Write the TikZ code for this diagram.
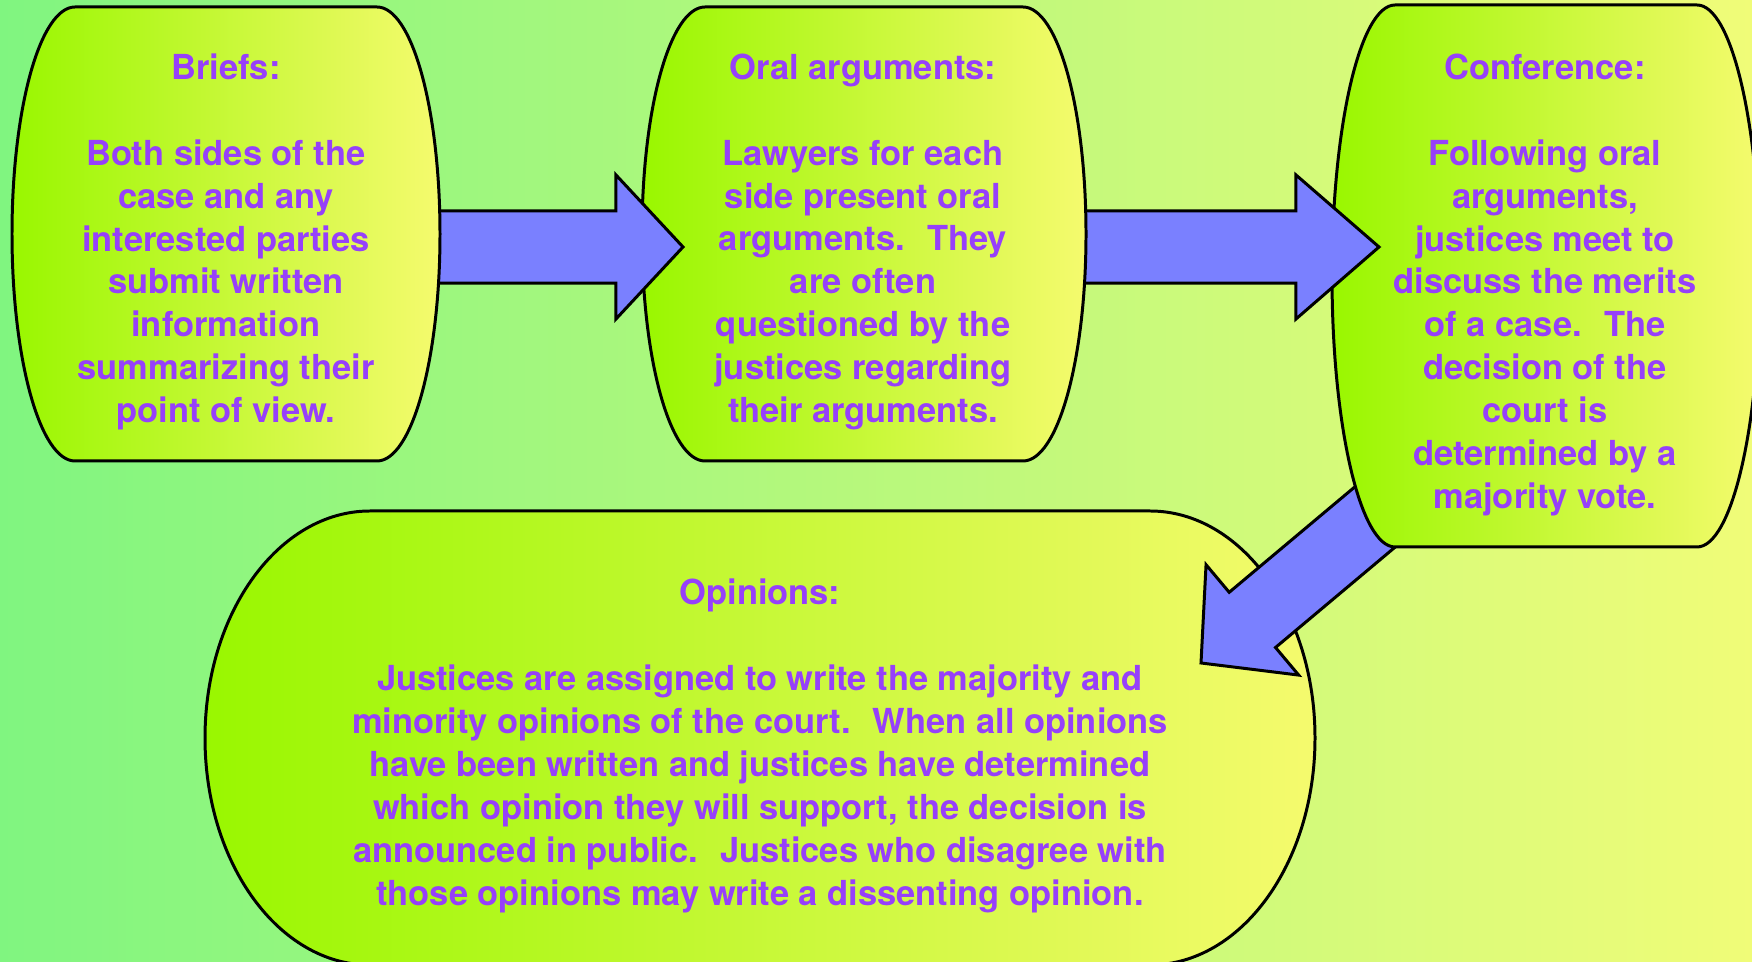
\documentclass[tikz,border=0pt]{standalone}
\usepackage{fontspec}
\setmainfont{TeX Gyre Heros}
\usetikzlibrary{calc}

\definecolor{bgleft}{RGB}{128,245,128}
\definecolor{bgright}{RGB}{240,252,120}
\definecolor{boxgreen}{RGB}{153,247,0}
\definecolor{boxyellow}{RGB}{245,250,110}
\definecolor{arrowblue}{RGB}{122,128,255}
\definecolor{txtpurple}{RGB}{150,64,250}

\tikzset{
  boxfill/.style={draw=black, line width=0.85pt, left color=boxgreen, right color=boxyellow},
  arrowfill/.style={draw=black, line width=0.85pt, fill=arrowblue, line join=miter},
  boxtext/.style={text=txtpurple, font=\bfseries\fontsize{9.8}{12.2}\selectfont, align=center}
}

% barrel: cx, cy, flat half width, bulge, half height
\newcommand\barrel[5]{
  \path[boxfill] (#1-#3,#2-#5) -- (#1+#3,#2-#5)
    arc[start angle=90, end angle=-90, x radius=#4*0.01cm, y radius=#5*0.01cm]
    -- (#1-#3,#2+#5)
    arc[start angle=-90, end angle=-270, x radius=#4*0.01cm, y radius=#5*0.01cm]
    -- cycle;
}

% block arrow: start, tip, head length
\newcommand\blockarrow[3]{
  \coordinate (hb) at ($(#2)!#3!(#1)$);
  \draw[arrowfill] ($(#1)!0.36cm!90:(#2)$) -- ($(hb)!0.36cm!90:(#2)$)
    -- ($(hb)!0.72cm!90:(#2)$) -- (#2) -- ($(hb)!0.72cm!-90:(#2)$)
    -- ($(hb)!0.36cm!-90:(#2)$) -- ($(#1)!0.36cm!-90:(#2)$) -- cycle;
}

\begin{document}
\begin{tikzpicture}[x=0.01cm, y=-0.01cm]
\useasboundingbox (0,0) rectangle (1752,962);
\shade[left color=bgleft, right color=bgright] (0,0) rectangle (1752,962);

%arrow ends
\coordinate (a1s) at (420,247);
\coordinate (a1e) at (683,247);
\coordinate (a2s) at (1065,247);
\coordinate (a2e) at (1379,247);
\coordinate (a3s) at (1400,496);
\coordinate (a3e) at (1201,663);

%boxes and arrows, back to front
\barrel{760}{738}{390}{165}{227}
\blockarrow{a3s}{a3e}{0.67cm}
\barrel{1546}{276}{151}{63}{271}
\blockarrow{a2s}{a2e}{0.83cm}
\barrel{864}{234}{159}{63}{227}
\blockarrow{a1s}{a1e}{0.67cm}
\barrel{226}{234}{151}{63}{227}

%texts
\node[boxtext] (briefs) at (226,242) {Briefs:\\[12.2pt]
  Both sides of the\\ case and any\\ interested parties\\ submit written\\
  information\\ summarizing their\\ point of view.};
\node[boxtext] (oral) at (863,242) {Oral arguments:\\[12.2pt]
  Lawyers for each\\ side present oral\\ arguments.~ They\\ are often\\
  questioned by the\\ justices regarding\\ their arguments.};
\node[boxtext] (conf) at (1545,285) {Conference:\\[12.2pt]
  Following oral\\ arguments,\\ justices meet to\\ discuss the merits\\
  of a case.~ The\\ decision of the\\ court is\\ determined by a\\ majority vote.};
\node[boxtext] (opin) at (760,746) {Opinions:\\[12.2pt]
  Justices are assigned to write the majority and\\
  minority opinions of the court.~ When all opinions\\
  have been written and justices have determined\\
  which opinion they will support, the decision is\\
  announced in public.~ Justices who disagree with\\
  those opinions may write a dissenting opinion.};

\end{tikzpicture}
\end{document}
